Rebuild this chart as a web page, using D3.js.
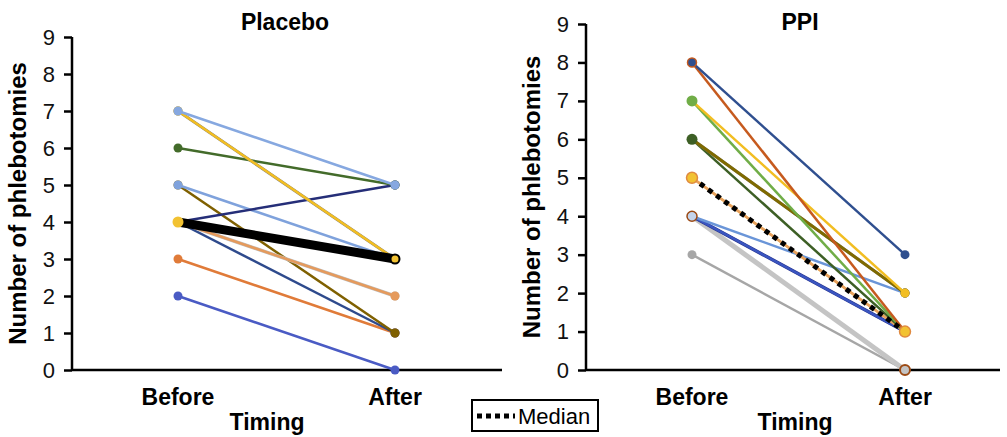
<!DOCTYPE html>
<html><head><meta charset="utf-8">
<script src="https://cdn.jsdelivr.net/npm/d3@7"></script>
<style>body{margin:0;background:#fff}svg{display:block;font-family:"Liberation Sans",Arial,sans-serif}</style>
</head><body><svg id="c" width="1007" height="437"></svg>
<script>
const timing = ["Before", "After"];
const yTicks = [0,1,2,3,4,5,6,7,8,9];
// Placebo: before / after values per patient (draw order)
const placeboBefore = [2,3,4,5,5,4,4,4,6,7,7,7,4];
const placeboAfter  = [0,1,1,1,3,2,2,5,5,3,3,5,3];
const placeboColors = ["#4a5bc4","#e07b39","#2e4a8c","#7f6000","#7fa2dc","#bfbfbf","#e59a5c","#252e78","#436b2a","#808080","#f2be22","#86a8e0","#f2c232"];
const placeboMedian = [4,3];
// PPI
const ppiBefore = [3,4,4,4,4,4,4,5,5,6,6,6,7,7,8,8];
const ppiAfter  = [0,0,0,0,1,1,2,1,1,1,2,2,1,2,1,3];
const ppiColors = ["#a6a6a6","#a9c4eb","#9c4a14","#c4c4c4","#25308a","#3a55c0","#6a95d8","#f2c232","#e8a060","#3d5f25","#7f7f7f","#7f6a00","#70ad47","#f2be22","#c65a1e","#2f4f8f"];
const ppiMedian = [5,1];

const svg = d3.select("#c");

function panel(cfg){
  const x = d3.scalePoint().domain(timing).range([cfg.bx, cfg.ax]);
  const y = d3.scaleLinear().domain([0,9]).range([cfg.y0, cfg.y9]);
  const g = svg.append("g");
  const ya = g.append("g").attr("transform",`translate(${cfg.axisX},0)`)
    .call(d3.axisLeft(y).tickValues(yTicks).tickSize(8).tickSizeOuter(0).tickPadding(9));
  ya.select(".domain").attr("stroke","#000").attr("stroke-width",2.5).attr("d",`M0,${cfg.y9}V${cfg.y0}`);
  ya.selectAll(".tick line").attr("stroke","#000").attr("stroke-width",2.5);
  ya.selectAll(".tick text").attr("font-size",22).attr("fill","#111").attr("font-family","'Liberation Sans',Arial,sans-serif");
  g.append("line").attr("x1",cfg.axisX).attr("x2",cfg.axisEnd).attr("y1",cfg.y0).attr("y2",cfg.y0)
    .attr("stroke","#000").attr("stroke-width",2.5);
  timing.forEach(t=>{
    g.append("text").attr("x",x(t)).attr("y",cfg.y0+35).attr("text-anchor","middle")
      .attr("font-size",23).attr("font-weight","bold").text(t);
  });
  g.append("text").attr("x",cfg.timingX).attr("y",cfg.y0+60).attr("text-anchor","middle")
    .attr("font-size",23).attr("font-weight","bold").text("Timing");
  g.append("text").attr("transform",`translate(${cfg.ylabX},${(cfg.y0+cfg.y9)/2}) rotate(-90)`)
    .attr("text-anchor","middle").attr("font-size",24).attr("font-weight","bold").text("Number of phlebotomies");
  g.append("text").attr("x",cfg.titleX).attr("y",cfg.titleY).attr("text-anchor","middle")
    .attr("font-size",23).attr("font-weight","bold").text(cfg.title);
  const line = d3.line().x((d,i)=>x(timing[i])).y(d=>y(d));
  cfg.before.forEach((b,i)=>{
    const vals=[b,cfg.after[i]];
    const w = cfg.widths && cfg.widths[i] ? cfg.widths[i] : 2.5;
    g.append("path").attr("d",line(vals)).attr("fill","none").attr("stroke",cfg.colors[i]).attr("stroke-width",w);
    vals.forEach((v,j)=>g.append("circle").attr("cx",x(timing[j])).attr("cy",y(v)).attr("r",4.5).attr("fill",cfg.colors[i]));
  });
  cfg.medianDraw(g, line, cfg.median, x, y);
}

panel({bx:178, ax:395, axisX:72, axisEnd:502, y0:370, y9:37, timingX:267, ylabX:26, titleX:285, titleY:30, title:"Placebo",
  before:placeboBefore, after:placeboAfter, colors:placeboColors, widths:[0,0,0,0,0,3.5,0,0,0,3,0,0,0],
  median:placeboMedian,
  medianDraw:(g,line,m,x,y)=>{
    g.append("path").attr("d",line(m)).attr("fill","none").attr("stroke","#000").attr("stroke-width",9);
    g.append("circle").attr("cx",x("After")).attr("cy",y(m[1])).attr("r",4.5).attr("fill","#f2c232").attr("stroke","#000").attr("stroke-width",2);
    g.append("circle").attr("cx",x("Before")).attr("cy",y(m[0])).attr("r",5.5).attr("fill","#f2c232");
  }});

panel({bx:692, ax:905, axisX:586, axisEnd:1000, y0:370, y9:24, timingX:795, ylabX:540, titleX:800, titleY:30, title:"PPI",
  before:ppiBefore, after:ppiAfter, colors:ppiColors, widths:[0,0,2,5,3.5,0,0,0,0,0,3,3,0,0,0,0],
  median:ppiMedian,
  medianDraw:(g,line,m,x,y)=>{
    g.append("path").attr("d",line(m)).attr("fill","none").attr("stroke","#000").attr("stroke-width",5).attr("stroke-dasharray","5,5");
    g.append("circle").attr("cx",x("Before")).attr("cy",y(m[0])).attr("r",5.5).attr("fill","#f2c232").attr("stroke","#e08a40").attr("stroke-width",1.5);
    g.append("circle").attr("cx",x("After")).attr("cy",y(m[1])).attr("r",5.5).attr("fill","#f2c232").attr("stroke","#e08a40").attr("stroke-width",1.5);
    g.append("circle").attr("cx",x("Before")).attr("cy",y(8)).attr("r",4.5).attr("fill","#2f4f8f").attr("stroke","#c65a1e").attr("stroke-width",1.5);
    g.append("circle").attr("cx",x("After")).attr("cy",y(0)).attr("r",5).attr("fill","#c4c4c4").attr("stroke","#9c4a14").attr("stroke-width",2);
    g.append("circle").attr("cx",x("Before")).attr("cy",y(4)).attr("r",5).attr("fill","#c4d4ec").attr("stroke","#9c4a14").attr("stroke-width",1.5);
    g.append("circle").attr("cx",x("Before")).attr("cy",y(7)).attr("r",5.5).attr("fill","#70ad47");
    g.append("circle").attr("cx",x("Before")).attr("cy",y(6)).attr("r",5.5).attr("fill","#3d5f25");
  }});

const lg = svg.append("g");
lg.append("rect").attr("x",472).attr("y",400).attr("width",126).attr("height",31).attr("fill","#fff").attr("stroke","#000").attr("stroke-width",2);
lg.append("line").attr("x1",477).attr("x2",515).attr("y1",416).attr("y2",416).attr("stroke","#000").attr("stroke-width",5).attr("stroke-dasharray","5,4");
lg.append("text").attr("x",518).attr("y",424).attr("font-size",22).text("Median");
</script></body></html>
